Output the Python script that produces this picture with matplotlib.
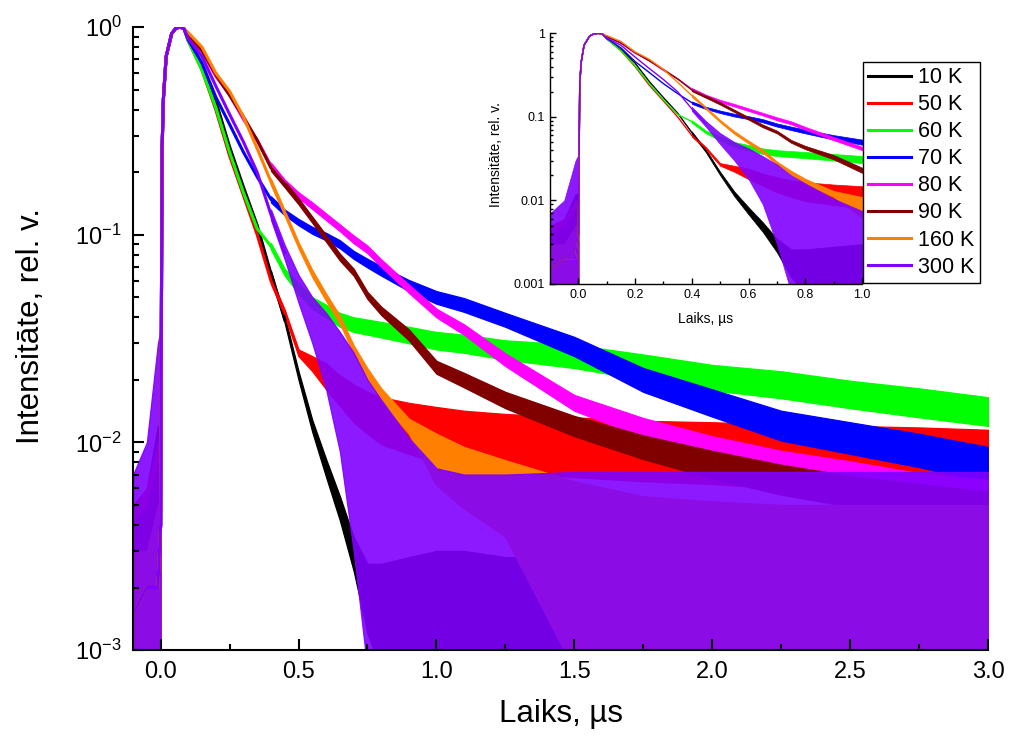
import numpy as np
import matplotlib
matplotlib.use("Agg")
import matplotlib.pyplot as plt
from matplotlib.ticker import MultipleLocator, LogLocator, NullFormatter, FuncFormatter, FormatStrFormatter

plt.rcParams['font.family'] = ['Liberation Sans', 'DejaVu Sans']
plt.rcParams['mathtext.fontset'] = 'custom'
plt.rcParams['mathtext.rm'] = 'Liberation Sans'
plt.rcParams['mathtext.it'] = 'Liberation Sans:italic'

# %%
# -------------------
# 1. Data (time in µs, intensity normalised)
# -------------------
# clean rise and early decay: one value per time
T_HEAD = [-0.1, -0.05, -0.01, 0.0, 0.005, 0.01, 0.02, 0.04, 0.055, 0.07, 0.085,
          0.1, 0.15, 0.2, 0.25, 0.3, 0.35, 0.4, 0.45]
# noisy tail: lower and upper edge of the noise band
T_TAIL = [0.4, 0.45, 0.5, 0.55, 0.6, 0.65, 0.7, 0.75, 0.8, 0.9,
          1.0, 1.1, 1.25, 1.5, 1.75, 2.0, 2.25, 2.5, 2.75, 3.0]
# noise before the excitation pulse: upper edge
T_PRE = [-0.1, -0.05, -0.01, 0.0]

labels = ["10 K", "50 K", "60 K", "70 K", "80 K", "90 K", "160 K", "300 K"]
colors = ["#000000", "#ff0000", "#00ff00", "#0000ff", "#ff00ff", "#800000", "#ff8000", "#8000ff"]
fill_alpha = [1, 1, 1, 1, 1, 1, 1, 0.9]

rise = [0.0015, 0.002, 0.002, 0.004, 0.25, 0.45, 0.72, 0.93, 0.985, 1.0, 0.98]
k10_head = rise + [0.86, 0.64, 0.44, 0.265, 0.17, 0.111, 0.065, 0.039]
k50_head = rise + [0.86, 0.62, 0.40, 0.24, 0.155, 0.10, 0.060, 0.042]
k60_head = rise + [0.86, 0.62, 0.41, 0.25, 0.16, 0.107, 0.088, 0.066]
k70_head = rise + [0.87, 0.67, 0.46, 0.34, 0.25, 0.19, 0.148, 0.128]
k80_head = rise + [0.90, 0.76, 0.58, 0.47, 0.36, 0.285, 0.215, 0.178]
k90_head = rise + [0.92, 0.77, 0.59, 0.47, 0.37, 0.285, 0.21, 0.175]
k160_head = rise + [0.94, 0.80, 0.60, 0.49, 0.37, 0.26, 0.18, 0.127]
k300_head = rise + [0.88, 0.72, 0.52, 0.38, 0.28, 0.20, 0.125, 0.082]

k10_lo = [0.063, 0.0375, 0.020, 0.0112, 0.0068, 0.0042, 0.0024, 0.0012, 0.0008, 0.0008,
          0.0008, 0.0008, 0.0008, 0.0008, 0.0008, 0.0008, 0.0008, 0.0008, 0.0008, 0.0008]
k10_hi = [0.067, 0.0405, 0.022, 0.0128, 0.0083, 0.0055, 0.0035, 0.0026, 0.0026, 0.0028,
          0.003, 0.003, 0.0028, 0.0028, 0.0028, 0.0028, 0.0028, 0.0028, 0.0028, 0.0028]
k50_lo = [0.058, 0.0405, 0.026, 0.022, 0.018, 0.015, 0.0125, 0.011, 0.0098, 0.0088,
          0.008, 0.0076, 0.0072, 0.0068, 0.0065, 0.0063, 0.006, 0.0058, 0.0056, 0.0055]
k50_hi = [0.062, 0.0435, 0.028, 0.026, 0.024, 0.021, 0.019, 0.0175, 0.0165, 0.0155,
          0.0148, 0.0142, 0.0137, 0.0132, 0.0127, 0.0125, 0.0122, 0.012, 0.0118, 0.0115]
k60_lo = [0.085, 0.0635, 0.052, 0.044, 0.040, 0.036, 0.034, 0.033, 0.032, 0.030,
          0.028, 0.027, 0.025, 0.0228, 0.020, 0.0178, 0.0163, 0.0146, 0.0132, 0.012]
k60_hi = [0.091, 0.0685, 0.058, 0.050, 0.046, 0.042, 0.040, 0.039, 0.038, 0.036,
          0.034, 0.033, 0.031, 0.0295, 0.0265, 0.0236, 0.022, 0.0198, 0.0182, 0.0165]
k70_lo = [0.143, 0.124, 0.111, 0.101, 0.094, 0.086, 0.0765, 0.0695, 0.0635, 0.0535,
          0.0465, 0.0425, 0.036, 0.026, 0.0175, 0.0133, 0.0102, 0.0088, 0.0076, 0.0064]
k70_hi = [0.153, 0.132, 0.119, 0.109, 0.102, 0.094, 0.0835, 0.0765, 0.0705, 0.0605,
          0.0535, 0.0495, 0.042, 0.0322, 0.0228, 0.018, 0.0142, 0.0125, 0.011, 0.0095]
k80_lo = [0.208, 0.172, 0.15, 0.133, 0.1175, 0.104, 0.091, 0.0815, 0.07, 0.0525,
          0.040, 0.033, 0.0233, 0.0142, 0.0106, 0.0084, 0.007, 0.006, 0.0051, 0.0046]
k80_hi = [0.222, 0.184, 0.16, 0.143, 0.1265, 0.112, 0.099, 0.0885, 0.076, 0.0575,
          0.044, 0.037, 0.0268, 0.0169, 0.0131, 0.0107, 0.0091, 0.0081, 0.0071, 0.0066]
k90_lo = [0.203, 0.169, 0.14, 0.114, 0.0925, 0.075, 0.0635, 0.049, 0.041, 0.031,
          0.0214, 0.0184, 0.0146, 0.0107, 0.0083, 0.0067, 0.0056, 0.0049, 0.0043, 0.004]
k90_hi = [0.217, 0.181, 0.15, 0.122, 0.0995, 0.081, 0.0685, 0.053, 0.045, 0.035,
          0.0247, 0.0216, 0.0175, 0.0134, 0.0108, 0.0091, 0.0078, 0.0069, 0.0063, 0.0058]
k160_lo = [0.174, 0.123, 0.086, 0.0625, 0.048, 0.0373, 0.0267, 0.0203, 0.0158, 0.011,
           0.0062, 0.0048, 0.0035, 0.0008, 0.0008, 0.0008, 0.0008, 0.0008, 0.0008, 0.0008]
k160_hi = [0.186, 0.131, 0.092, 0.0675, 0.052, 0.0407, 0.0293, 0.0227, 0.0182, 0.013,
           0.011, 0.0095, 0.0082, 0.0065, 0.0055, 0.0052, 0.005, 0.005, 0.005, 0.005]
k300_lo = [0.118, 0.076, 0.047, 0.030, 0.018, 0.009, 0.003, 0.0008, 0.0008, 0.0008,
           0.0008, 0.0008, 0.0008, 0.0008, 0.0008, 0.0008, 0.0008, 0.0008, 0.0008, 0.0008]
k300_hi = [0.132, 0.089, 0.064, 0.05, 0.042, 0.034, 0.027, 0.02, 0.016, 0.0105,
           0.0075, 0.007, 0.007, 0.0072, 0.0072, 0.0072, 0.0072, 0.0072, 0.0072, 0.0072]

k10_pre = [0.004, 0.006, 0.012, 0.012]
k50_pre = [0.005, 0.006, 0.010, 0.010]
k60_pre = [0.003, 0.004, 0.008, 0.008]
k70_pre = [0.003, 0.004, 0.006, 0.006]
k80_pre = [0.003, 0.004, 0.006, 0.006]
k90_pre = [0.004, 0.005, 0.008, 0.008]
k160_pre = [0.003, 0.003, 0.005, 0.005]
k300_pre = [0.007, 0.010, 0.030, 0.035]

heads = [k10_head, k50_head, k60_head, k70_head, k80_head, k90_head, k160_head, k300_head]
los = [k10_lo, k50_lo, k60_lo, k70_lo, k80_lo, k90_lo, k160_lo, k300_lo]
his = [k10_hi, k50_hi, k60_hi, k70_hi, k80_hi, k90_hi, k160_hi, k300_hi]
pres = [k10_pre, k50_pre, k60_pre, k70_pre, k80_pre, k90_pre, k160_pre, k300_pre]

FLOOR = 0.0008  # below the axis floor, gets clipped


# %%
# -------------------
# 2. Plot
# -------------------
def draw(a, lw, edge_lw):
    handles = []
    for i in range(len(labels)):
        col, al = colors[i], fill_alpha[i]
        a.fill_between(T_PRE, FLOOR, pres[i], facecolor=col, edgecolor=col, lw=edge_lw, alpha=al)
        a.fill_between(T_TAIL, los[i], his[i], facecolor=col, edgecolor=col, lw=edge_lw, alpha=al)
        ln, = a.plot(T_HEAD, heads[i], color=col, lw=lw, label=labels[i], solid_joinstyle="round")
        handles.append(ln)
    return handles


def style_log(a, spine_w):
    a.set_yscale("log")
    a.set_ylim(1e-3, 1)
    for s in ["top", "right"]:
        a.spines[s].set_visible(False)
    for s in ["left", "bottom"]:
        a.spines[s].set_linewidth(spine_w)
    a.yaxis.set_major_locator(LogLocator(base=10))
    a.yaxis.set_minor_locator(LogLocator(base=10, subs=range(2, 10)))
    a.yaxis.set_minor_formatter(NullFormatter())
    a.xaxis.set_major_formatter(FormatStrFormatter("%.1f"))


fig = plt.figure(figsize=(10.11, 7.44), dpi=100)

# main axes
ax = fig.add_axes([0.1316, 0.1263, 0.8457, 0.8374])
lines = draw(ax, 2.2, 0.9)
style_log(ax, 1.5)
ax.set_xlim(-0.1, 3.0)
ax.xaxis.set_major_locator(MultipleLocator(0.5))
ax.xaxis.set_minor_locator(MultipleLocator(0.25))
ax.yaxis.set_major_formatter(FuncFormatter(lambda v, p: r"$\mathregular{10^{%d}}$" % round(np.log10(v))))
ax.tick_params(which="both", direction="in", width=1.5, top=False, right=False)
ax.tick_params(which="major", length=8, labelsize=17, pad=8)
ax.tick_params(which="minor", length=4.5)
ax.set_ylabel("Intensitāte, rel. v.", fontsize=22.5)
ax.set_xlabel("Laiks, µs", fontsize=22.5, va="top")
ax.yaxis.set_label_coords(-0.102, 0.52)
ax.xaxis.set_label_coords(0.5, -0.078)

# inset
ins = fig.add_axes([0.544, 0.6183, 0.3086, 0.3369])
draw(ins, 1.0, 0.5)
style_log(ins, 1.0)
ins.set_xlim(-0.1, 1.0)
ins.xaxis.set_major_locator(MultipleLocator(0.2))
ins.xaxis.set_minor_locator(MultipleLocator(0.1))
ins.yaxis.set_major_formatter(FuncFormatter(lambda v, p: "%g" % v))
ins.tick_params(which="both", direction="in", width=1.0, top=False, right=False)
ins.tick_params(which="major", length=4, labelsize=9, pad=3.5)
ins.tick_params(which="minor", length=2.5)
ins.set_ylabel("Intensitāte, rel. v.", fontsize=10)
ins.set_xlabel("Laiks, µs", fontsize=10, va="top")
ins.yaxis.set_label_coords(-0.151, 0.516)
ins.xaxis.set_label_coords(0.5, -0.112)

leg = fig.legend(handles=lines, loc="upper left", bbox_to_anchor=(0.8536, 0.9167),
                 fontsize=15.5, frameon=True, fancybox=False, edgecolor="black",
                 borderpad=0.25, labelspacing=0.28, handlelength=2.0, handletextpad=0.3,
                 borderaxespad=0)
leg.get_frame().set_linewidth(1.0)
leg.get_frame().set_alpha(1)

fig.savefig("out.png", dpi=100)
